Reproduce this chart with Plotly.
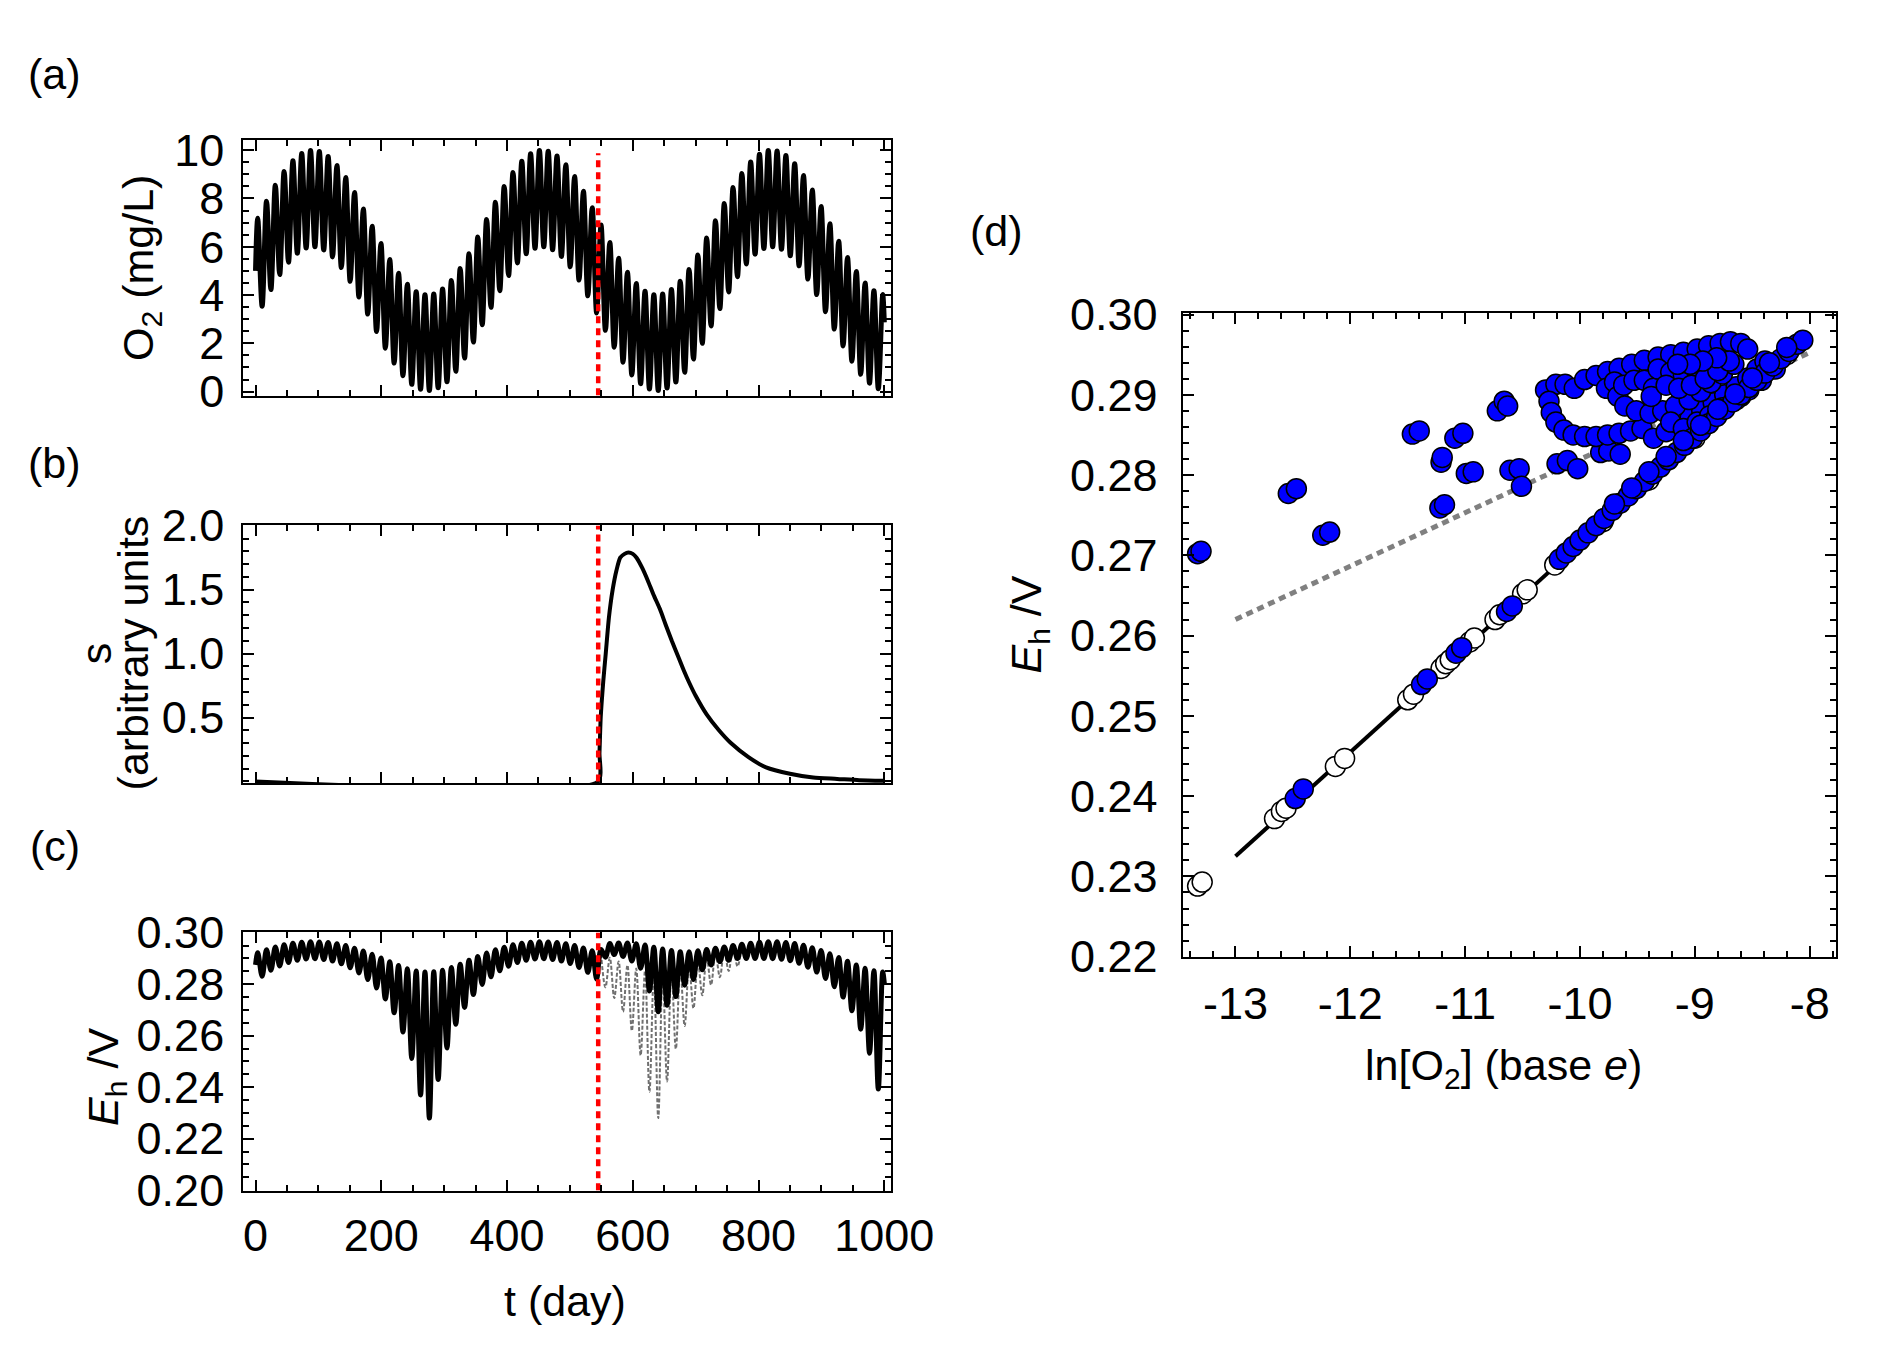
import plotly.graph_objects as go

FONT = "Liberation Sans, Arial, sans-serif"

# ---- panels (a)-(c): values read at the turning points of the fast cycle ----
t_days = [0.0] + [3.5 + 7.0 * k for k in range(143)] + [1000.0]

o2_mgl = [5.00,
          7.18, 3.54, 7.89, 4.23, 8.55, 4.85, 9.12, 5.36, 9.56, 5.73,
          9.86, 5.95, 9.99, 6.00, 9.95, 5.87, 9.74, 5.58, 9.37, 5.14,
          8.87, 4.57, 8.25, 3.92, 7.56, 3.21, 6.85, 2.49, 6.14, 1.80,
          5.47, 1.18, 4.90, 0.66, 4.45, 0.30, 4.14, 0.10, 4.01, 0.05,
          4.04, 0.16, 4.25, 0.41, 4.60, 0.84, 5.10, 1.39, 5.71, 2.05,
          6.41, 2.77, 7.13, 3.49, 7.84, 4.18, 8.50, 4.81, 9.08, 5.33,
          9.54, 5.71, 9.85, 5.94, 9.99, 6.00, 9.96, 5.88, 9.76, 5.60,
          9.40, 5.17, 8.91, 4.62, 8.30, 3.97, 7.62, 3.26, 6.90, 2.54,
          6.18, 1.84, 5.52, 1.22, 4.94, 0.69, 4.48, 0.33, 4.16, 0.11,
          4.01, 0.05, 4.04, 0.15, 4.23, 0.40, 4.57, 0.80, 5.06, 1.35,
          5.66, 2.00, 6.36, 2.72, 7.08, 3.44, 7.79, 4.13, 8.46, 4.76,
          9.04, 5.29, 9.51, 5.69, 9.83, 5.93, 9.99, 6.00, 9.97, 5.90,
          9.78, 5.63, 9.44, 5.21, 8.95, 4.66, 8.35, 4.02, 7.67, 3.31,
          6.95, 2.59, 6.23, 1.89, 5.56, 1.26, 4.98, 0.72, 4.50, 0.35,
          4.18, 0.12, 4.02,
          2.87]

# Eh without the perturbation (black before day 545, grey dashed after)
eh_base = [0.2875,
           0.2922, 0.2831, 0.2934, 0.2854, 0.2945, 0.2871, 0.2953, 0.2884, 0.2959, 0.2893,
           0.2963, 0.2898, 0.2965, 0.2899, 0.2964, 0.2896, 0.2962, 0.2890, 0.2957, 0.2879,
           0.2950, 0.2864, 0.2940, 0.2844, 0.2929, 0.2818, 0.2916, 0.2785, 0.2902, 0.2743,
           0.2887, 0.2689, 0.2873, 0.2614, 0.2860, 0.2512, 0.2851, 0.2370, 0.2847, 0.2280,
           0.2848, 0.2430, 0.2854, 0.2552, 0.2865, 0.2645, 0.2878, 0.2710, 0.2893, 0.2760,
           0.2908, 0.2799, 0.2921, 0.2829, 0.2934, 0.2852, 0.2944, 0.2870, 0.2953, 0.2884,
           0.2959, 0.2893, 0.2963, 0.2898, 0.2965, 0.2899, 0.2964, 0.2896, 0.2962, 0.2890,
           0.2957, 0.2880, 0.2950, 0.2865, 0.2941, 0.2846, 0.2930, 0.2820, 0.2917, 0.2788,
           0.2903, 0.2746, 0.2888, 0.2693, 0.2874, 0.2619, 0.2861, 0.2524, 0.2852, 0.2382,
           0.2847, 0.2280, 0.2848, 0.2422, 0.2854, 0.2549, 0.2864, 0.2638, 0.2877, 0.2706,
           0.2891, 0.2757, 0.2906, 0.2797, 0.2920, 0.2827, 0.2933, 0.2851, 0.2943, 0.2869,
           0.2952, 0.2883, 0.2958, 0.2892, 0.2963, 0.2897, 0.2965, 0.2899, 0.2965, 0.2897,
           0.2962, 0.2891, 0.2958, 0.2881, 0.2951, 0.2866, 0.2942, 0.2847, 0.2931, 0.2822,
           0.2918, 0.2790, 0.2904, 0.2750, 0.2889, 0.2697, 0.2875, 0.2625, 0.2862, 0.2532,
           0.2852, 0.2393, 0.2847,
           0.2804]

# Eh with the perturbation, turning points 78..115 (day 549.5 - 808.5)
eh_perturbed = [0.2935, 0.2905, 0.2958, 0.2915, 0.2960, 0.2908, 0.2960, 0.2890, 0.2957, 0.2862,
                0.2952, 0.2774, 0.2944, 0.2693, 0.2937, 0.2718, 0.2931, 0.2752, 0.2926, 0.2796,
                0.2926, 0.2818, 0.2930, 0.2856, 0.2935, 0.2875, 0.2940, 0.2888, 0.2945, 0.2893,
                0.2950, 0.2900, 0.2955, 0.2900, 0.2959, 0.2900, 0.2963, 0.2900]

eh_black = eh_base[:79] + eh_perturbed + eh_base[117:]
t_gray = t_days[79:112]
eh_gray = eh_base[79:112]

# perturbation s (panel b)
s_t = [0, 545, 547, 549, 553, 557, 562, 568, 574, 580, 587, 593, 600, 606, 615, 624,
       633, 643, 652, 662, 672, 681, 690, 700, 718, 737, 756, 784, 812, 850, 887, 925, 960, 1000]
s_val = [0, 0, 0.22, 0.50, 0.78, 1.00, 1.28, 1.50, 1.65, 1.75, 1.78, 1.79, 1.78, 1.75, 1.67, 1.57,
         1.46, 1.35, 1.23, 1.10, 0.98, 0.87, 0.77, 0.67, 0.52, 0.40, 0.30, 0.19, 0.11, 0.06, 0.03, 0.02, 0.01, 0.005]

red_t = 545

# ---- panel (d) ----
white_ln = [-13.33, -13.29, -12.66, -12.60, -12.56, -12.13, -12.05, -11.50, -11.45, -11.21,
            -11.17, -11.13, -10.96, -10.92, -10.74, -10.70, -10.50, -10.46, -10.22, -9.80,
            -9.40, -9.00, -8.60, -8.20]
white_eh = [0.2288, 0.2293, 0.2372, 0.2381, 0.2385, 0.2437, 0.2447, 0.2520, 0.2527, 0.2559,
            0.2565, 0.2570, 0.2592, 0.2597, 0.2620, 0.2626, 0.2652, 0.2657, 0.2688, 0.2742,
            0.2794, 0.2846, 0.2898, 0.2950]

blue_scatter_ln = [-13.33, -13.30, -12.54, -12.47, -12.24, -12.18, -11.46, -11.40, -11.21, -11.20,
                   -11.22, -11.18, -11.09, -11.02, -10.99, -10.93, -10.72, -10.66, -10.63, -10.61,
                   -10.53, -10.51, -10.20, -10.11, -10.02, -9.82, -9.75, -9.65,
                   -12.48, -12.41, -11.38, -11.33, -11.08, -11.03, -10.64, -10.59]
blue_scatter_eh = [0.2702, 0.2705, 0.2777, 0.2783, 0.2725, 0.2729, 0.2851, 0.2855, 0.2816, 0.2822,
                   0.2759, 0.2763, 0.2846, 0.2852, 0.2802, 0.2804, 0.2880, 0.2892, 0.2886, 0.2806,
                   0.2808, 0.2786, 0.2814, 0.2818, 0.2808, 0.2828, 0.2830, 0.2826,
                   0.2397, 0.2409, 0.2539, 0.2546, 0.2578, 0.2585, 0.2630, 0.2637]

blue_loop_ln = [-10.30, -10.21, -10.13, -10.05, -9.96, -9.86, -9.76, -9.66, -9.55, -9.44,
                -9.32, -9.21, -9.10, -8.98, -8.88, -8.78, -8.69, -8.60, -8.54,
                -10.27, -10.25, -10.21, -10.14, -10.06, -9.96, -9.86, -9.76, -9.66, -9.56,
                -9.46, -9.36, -9.25, -9.14, -9.04, -8.94, -8.84, -8.74, -8.64, -8.54, -8.46, -8.39,
                -9.77, -9.70, -9.67, -9.61, -9.51, -9.39, -9.28, -9.17, -9.05, -8.95, -8.86, -8.76, -8.66,
                -9.62, -9.53, -9.44, -9.36, -9.38,
                -9.32, -9.21, -9.10, -8.98, -8.87, -9.25, -9.14, -9.03, -8.91, -8.80, -8.70,
                -8.81, -8.93, -9.04, -9.15,
                -9.21, -9.10, -8.98, -8.87, -8.76, -8.64, -8.53, -8.42, -8.30]
blue_loop_eh = [0.2906, 0.2913, 0.2913, 0.2908, 0.2919, 0.2924, 0.2929, 0.2933, 0.2938, 0.2943,
                0.2947, 0.2950, 0.2953, 0.2957, 0.2961, 0.2964, 0.2966, 0.2964, 0.2957,
                0.2892, 0.2878, 0.2866, 0.2856, 0.2850, 0.2848, 0.2848, 0.2850, 0.2852, 0.2855,
                0.2858, 0.2846, 0.2854, 0.2864, 0.2872, 0.2880, 0.2890, 0.2900, 0.2910, 0.2921, 0.2932, 0.2942,
                0.2908, 0.2916, 0.2898, 0.2886, 0.2880, 0.2877, 0.2880, 0.2886, 0.2894, 0.2904, 0.2915, 0.2926, 0.2938,
                0.2912, 0.2918, 0.2918, 0.2908, 0.2898,
                0.2932, 0.2928, 0.2924, 0.2928, 0.2936, 0.2912, 0.2908, 0.2912, 0.2920, 0.2930, 0.2942,
                0.2946, 0.2942, 0.2938, 0.2938,
                0.2866, 0.2858, 0.2866, 0.2874, 0.2884, 0.2894, 0.2906, 0.2918, 0.2932]

blue_diag_ln = [-10.18, -10.12, -10.06, -10.00, -9.93, -9.86, -9.79, -9.72, -9.65, -9.58,
                -9.51, -9.44, -9.37, -9.30, -9.23, -9.16, -9.09, -9.02, -8.95, -8.88,
                -8.81, -8.74, -8.67, -8.60, -8.53, -8.46, -8.39, -8.32, -8.25, -8.18,
                -8.11, -8.06,
                -9.70, -9.55, -9.40, -9.25, -9.10, -8.95, -8.80, -8.65, -8.50, -8.35, -8.20]
blue_diag_eh = [0.2695, 0.2703, 0.2711, 0.2719, 0.2728, 0.2737, 0.2746, 0.2756, 0.2765, 0.2774,
                0.2783, 0.2792, 0.2801, 0.2810, 0.2819, 0.2828, 0.2837, 0.2846, 0.2855, 0.2864,
                0.2873, 0.2882, 0.2891, 0.2900, 0.2909, 0.2918, 0.2927, 0.2936, 0.2945, 0.2954,
                0.2963, 0.2968,
                0.2764, 0.2784, 0.2804, 0.2823, 0.2843, 0.2862, 0.2882, 0.2901, 0.2921, 0.2940, 0.2959]

blue_ln = blue_scatter_ln + blue_loop_ln + blue_diag_ln
blue_eh = blue_scatter_eh + blue_loop_eh + blue_diag_eh

fit_ln = [-13.0, -8.0]
fit_eh = [0.2325, 0.2974]
guide_ln = [-13.0, -7.98]
guide_eh = [0.2620, 0.2954]

fig = go.Figure()

red = dict(color="#ff0000", width=4.5, dash="7px,5px")

# (a)
fig.add_trace(go.Scatter(x=t_days, y=o2_mgl, mode="lines", xaxis="x", yaxis="y",
                         line=dict(color="black", width=5, shape="spline", smoothing=1.0)))
fig.add_trace(go.Scatter(x=[red_t, red_t], y=[-0.15, 9.87], mode="lines", xaxis="x", yaxis="y", line=red))
# (b)
fig.add_trace(go.Scatter(x=s_t, y=s_val, mode="lines", xaxis="x2", yaxis="y2",
                         line=dict(color="black", width=4, shape="spline", smoothing=0.6)))
fig.add_trace(go.Scatter(x=[red_t, red_t], y=[0, 2.0], mode="lines", xaxis="x2", yaxis="y2", line=red))
# (c)
fig.add_trace(go.Scatter(x=t_gray, y=eh_gray, mode="lines", xaxis="x3", yaxis="y3",
                         line=dict(color="#707070", width=2, dash="4px,2px", shape="spline", smoothing=1.0)))
fig.add_trace(go.Scatter(x=t_days, y=eh_black, mode="lines", xaxis="x3", yaxis="y3",
                         line=dict(color="black", width=5, shape="spline", smoothing=1.0)))
fig.add_trace(go.Scatter(x=[red_t, red_t], y=[0.2, 0.30], mode="lines", xaxis="x3", yaxis="y3", line=red))
# (d)
fig.add_trace(go.Scatter(x=guide_ln, y=guide_eh, mode="lines", xaxis="x4", yaxis="y4",
                         line=dict(color="#808080", width=5, dash="7px,5px")))
fig.add_trace(go.Scatter(x=fit_ln, y=fit_eh, mode="lines", xaxis="x4", yaxis="y4",
                         line=dict(color="black", width=4)))
fig.add_trace(go.Scatter(x=white_ln, y=white_eh, mode="markers", xaxis="x4", yaxis="y4",
                         marker=dict(size=20, color="white", line=dict(color="black", width=1.5))))
fig.add_trace(go.Scatter(x=blue_ln, y=blue_eh, mode="markers", xaxis="x4", yaxis="y4",
                         marker=dict(size=20, color="#0000ff", line=dict(color="black", width=1.5))))

axis_style = dict(showline=True, linecolor="black", linewidth=2, mirror="allticks",
                  ticks="inside", ticklen=11, tickwidth=2, tickcolor="black",
                  showgrid=False, zeroline=False,
                  tickfont=dict(family=FONT, size=45, color="black"))


def minor(step):
    return dict(ticks="inside", ticklen=6, tickwidth=1.5, tickcolor="black", dtick=step, tick0=0, showgrid=False)


t_range = [-19.6, 1010.5]
dom_x = [0.1272, 0.4775]

fig.update_layout(
    width=1892, height=1359, autosize=False,
    margin=dict(l=0, r=0, t=0, b=0),
    paper_bgcolor="white", plot_bgcolor="white",
    showlegend=False,
    xaxis=dict(axis_style, domain=dom_x, range=t_range, anchor="y", tick0=0, dtick=200,
               minor=minor(50), showticklabels=False),
    yaxis=dict(axis_style, domain=[0.7216, 0.9178], range=[-0.2, 10.44], anchor="x", tick0=0, dtick=2,
               minor=minor(0.5), ticklabelstandoff=8),
    xaxis2=dict(axis_style, domain=dom_x, range=t_range, anchor="y2", tick0=0, dtick=200,
                minor=minor(50), showticklabels=False),
    yaxis2=dict(axis_style, domain=[0.4260, 0.6235], range=[-0.015, 2.007], anchor="x2",
                tickmode="array", tickvals=[0.5, 1.0, 1.5, 2.0], ticktext=["0.5", "1.0", "1.5", "2.0"],
                minor=minor(0.1), ticklabelstandoff=8),
    xaxis3=dict(axis_style, domain=dom_x, range=t_range, anchor="y3", tick0=0, dtick=200,
                minor=minor(50), ticklabelstandoff=4),
    yaxis3=dict(axis_style, domain=[0.1146, 0.3125], range=[0.1997, 0.3003], anchor="x3", tick0=0, dtick=0.02,
                tickformat=".2f", minor=minor(0.005), ticklabelstandoff=8),
    xaxis4=dict(axis_style, domain=[0.6353, 0.9887], range=[-13.46, -7.77], anchor="y4",
                tickmode="array", tickvals=[-13, -12, -11, -10, -9, -8],
                ticktext=["-13", "-12", "-11", "-10", "-9", "-8"], minor=minor(0.2), ticklabelstandoff=6),
    yaxis4=dict(axis_style, domain=[0.2936, 0.7854], range=[0.22, 0.3002], anchor="x4", tick0=0, dtick=0.01,
                tickformat=".2f", minor=minor(0.002), ticklabelstandoff=14),
)

texts = [
    ("(a)", 0.0254, 0.9676, 0),
    ("(b)", 0.0254, 0.6711, 0),
    ("(c)", 0.0254, 0.3782, 0),
    ("(d)", 0.5344, 0.8477, 0),
    ("O<sub>2</sub> (mg/L)", 0.0719, 0.8197, -90),
    ("s", 0.0476, 0.5254, -90),
    ("(arbitrary units", 0.0677, 0.5254, -90),
    ("<i>E</i><sub>h</sub> /V", 0.0529, 0.2016, -90),
    ("<i>E</i><sub>h</sub> /V", 0.5523, 0.5475, -90),
    ("t (day)", 0.3013, 0.0302, 0),
    ("ln[O<sub>2</sub>] (base <i>e</i>)", 0.8087, 0.2082, 0),
]
for txt, x, y, ang in texts:
    fig.add_annotation(text=txt, x=x, y=y, xref="paper", yref="paper", showarrow=False,
                       xanchor="center", yanchor="middle", textangle=ang,
                       font=dict(family=FONT, size=43, color="black"))

fig.write_html("out.html")
